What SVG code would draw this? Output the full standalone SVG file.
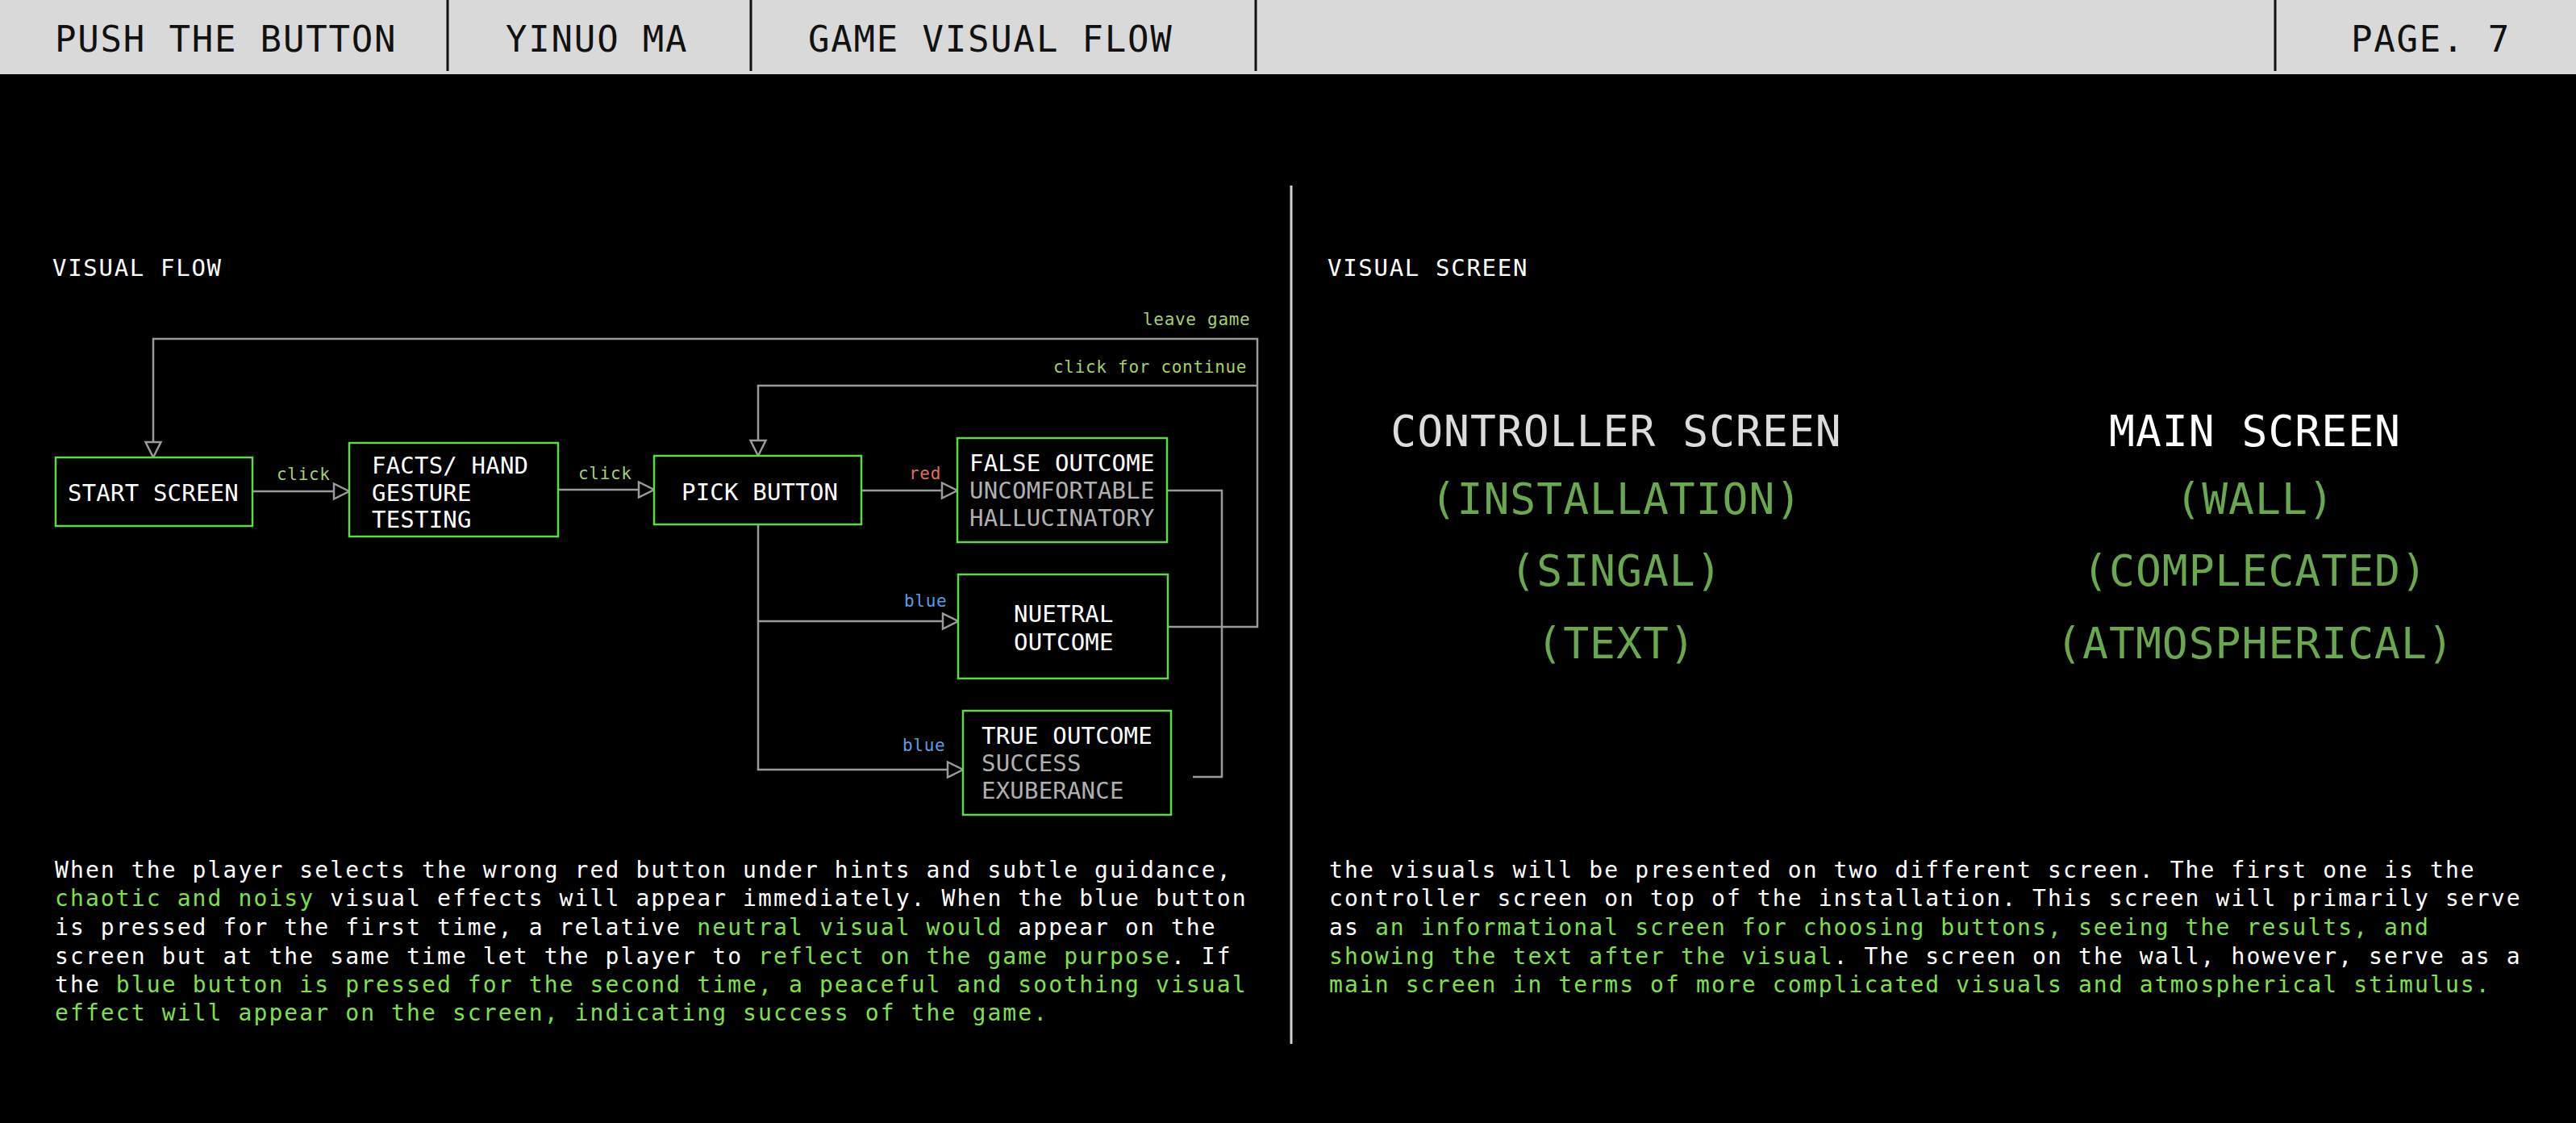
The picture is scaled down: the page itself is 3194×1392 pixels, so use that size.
<svg xmlns="http://www.w3.org/2000/svg" width="3194" height="1392" viewBox="0 0 3194 1392">
<style>
text{font-family:"DejaVu Sans Mono","Liberation Mono",monospace;}
.hd{font-size:44px;letter-spacing:1.8px;fill:#111;}
.sec{font-size:29px;letter-spacing:1.7px;fill:#fff;}
.nd{font-size:29px;letter-spacing:0.2px;fill:#fff;}
.sub{fill:#b0b0b0;}
.box{fill:#000;stroke:#5ed94a;stroke-width:2.5;}
.lbl{font-size:21px;letter-spacing:0.7px;fill:#a6d06c;}
.red{fill:#e0705a;}
.blue{fill:#5a9de0;}
.con{fill:none;stroke:#9a9a9a;stroke-width:2.5;}
.body{font-size:28px;letter-spacing:2.1px;fill:#fff;}
.g{fill:#7ee04c;}
.big{font-size:53px;letter-spacing:1px;text-anchor:middle;}
.bg{fill:#6aa84f;}
</style>
<defs>
<marker id="arr" markerUnits="userSpaceOnUse" markerWidth="24" markerHeight="24" viewBox="-2 -2 24 24" refX="19" refY="9.5" orient="auto">
<path d="M0,0 L19,9.5 L0,19 Z" fill="#000" stroke="#9a9a9a" stroke-width="2.5"/>
</marker>
</defs>
<rect x="0" y="0" width="3194" height="1392" fill="#000"/>
<g id="header">
<rect x="0" y="0" width="3194" height="92" fill="#d9d9d9"/>
<g stroke="#111" stroke-width="3">
<line x1="555" y1="0" x2="555" y2="88"/>
<line x1="931" y1="0" x2="931" y2="88"/>
<line x1="1557" y1="0" x2="1557" y2="88"/>
<line x1="2821" y1="0" x2="2821" y2="88"/>
</g>
<text class="hd" x="68" y="64">PUSH THE BUTTON</text>
<text class="hd" x="627" y="64">YINUO MA</text>
<text class="hd" x="1002" y="64">GAME VISUAL FLOW</text>
<text class="hd" x="2915" y="64">PAGE. 7</text>
</g>
<line id="divider" x1="1601" y1="230" x2="1601" y2="1294" stroke="#d0d0d0" stroke-width="3"/>
<text class="sec" x="65" y="342">VISUAL FLOW</text>
<text class="sec" x="1646" y="342">VISUAL SCREEN</text>
<g id="connectors">
<path class="con" d="M313,609 H433" marker-end="url(#arr)"/>
<path class="con" d="M692,607 H811" marker-end="url(#arr)"/>
<path class="con" d="M1068,608 H1187" marker-end="url(#arr)"/>
<path class="con" d="M940,650 V954 H1194" marker-end="url(#arr)"/>
<path class="con" d="M940,770 H1188" marker-end="url(#arr)"/>
<path class="con" d="M1447,608 H1515 V963 H1479"/>
<path class="con" d="M1448,777 H1559 V420 H190 V567" marker-end="url(#arr)"/>
<path class="con" d="M1559,478 H940 V565" marker-end="url(#arr)"/>
<text class="lbl" x="343" y="595">click</text>
<text class="lbl" x="717" y="594">click</text>
<text class="lbl red" x="1127" y="594">red</text>
<text class="lbl blue" x="1121" y="752">blue</text>
<text class="lbl blue" x="1119" y="931">blue</text>
<text class="lbl" x="1417" y="403">leave game</text>
<text class="lbl" x="1306" y="462">click for continue</text>
</g>
<g id="start-screen">
<rect class="box" x="69" y="567" width="244" height="85"/>
<text class="nd" x="84" y="621">START SCREEN</text>
</g>
<g id="facts">
<rect class="box" x="433" y="549" width="259" height="116"/>
<text class="nd" x="461" y="587">FACTS/ HAND</text>
<text class="nd" x="461" y="621">GESTURE</text>
<text class="nd" x="461" y="654">TESTING</text>
</g>
<g id="pick-button">
<rect class="box" x="811" y="565" width="257" height="85"/>
<text class="nd" x="845" y="620">PICK BUTTON</text>
</g>
<g id="false-outcome">
<rect class="box" x="1187" y="543" width="260" height="129"/>
<text class="nd" x="1202" y="584">FALSE OUTCOME</text>
<text class="nd sub" x="1202" y="618">UNCOMFORTABLE</text>
<text class="nd sub" x="1202" y="652">HALLUCINATORY</text>
</g>
<g id="neutral-outcome">
<rect class="box" x="1188" y="712" width="260" height="129"/>
<text class="nd" x="1257" y="771">NUETRAL</text>
<text class="nd" x="1257" y="806">OUTCOME</text>
</g>
<g id="true-outcome">
<rect class="box" x="1194" y="881" width="258" height="129"/>
<text class="nd" x="1217" y="922">TRUE OUTCOME</text>
<text class="nd sub" x="1217" y="956">SUCCESS</text>
<text class="nd sub" x="1217" y="990">EXUBERANCE</text>
</g>
<g id="controller-screen">
<text class="big" x="2004" y="553" fill="#dcdcdc">CONTROLLER SCREEN</text>
<text class="big bg" x="2004" y="637">(INSTALLATION)</text>
<text class="big bg" x="2004" y="726">(SINGAL)</text>
<text class="big bg" x="2004" y="816">(TEXT)</text>
</g>
<g id="main-screen">
<text class="big" x="2796" y="553" fill="#fff">MAIN SCREEN</text>
<text class="big bg" x="2796" y="637">(WALL)</text>
<text class="big bg" x="2796" y="726">(COMPLECATED)</text>
<text class="big bg" x="2796" y="816">(ATMOSPHERICAL)</text>
</g>
<g id="left-text" class="body">
<text x="68" y="1088">When the player selects the wrong red button under hints and subtle guidance,</text>
<text x="68" y="1123"><tspan class="g">chaotic and noisy</tspan> visual effects will appear immediately. When the blue button</text>
<text x="68" y="1159">is pressed for the first time, a relative <tspan class="g">neutral visual would</tspan> appear on the</text>
<text x="68" y="1195">screen but at the same time let the player to <tspan class="g">reflect on the game purpose</tspan>. If</text>
<text x="68" y="1230">the <tspan class="g">blue button is pressed for the second time, a peaceful and soothing visual</tspan></text>
<text x="68" y="1265" class="g">effect will appear on the screen, indicating success of the game.</text>
</g>
<g id="right-text" class="body">
<text x="1648" y="1088">the visuals will be presented on two different screen. The first one is the</text>
<text x="1648" y="1123">controller screen on top of the installation. This screen will primarily serve</text>
<text x="1648" y="1159">as <tspan class="g">an informational screen for choosing buttons, seeing the results, and</tspan></text>
<text x="1648" y="1195"><tspan class="g">showing the text after the visual</tspan>. The screen on the wall, however, serve as a</text>
<text x="1648" y="1230" class="g">main screen in terms of more complicated visuals and atmospherical stimulus.</text>
</g>
</svg>
